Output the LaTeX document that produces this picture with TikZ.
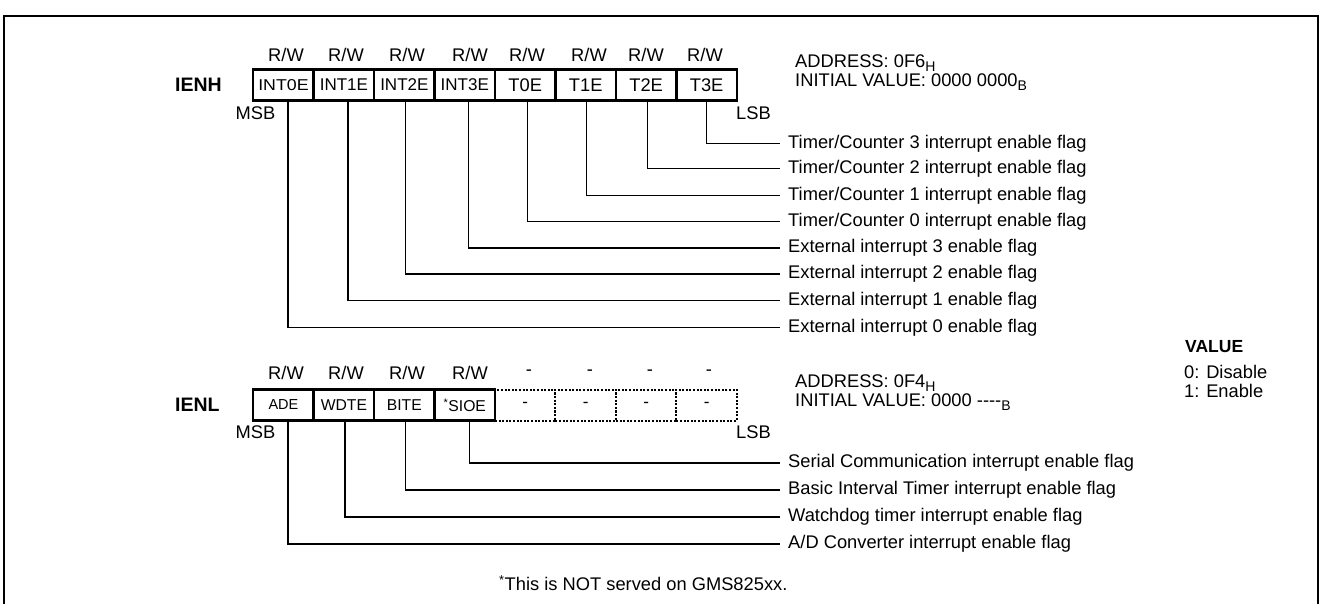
\documentclass[tikz,border=0pt]{standalone}
\usepackage{fontspec}
\setmainfont{Liberation Sans}
\newcommand{\lowsub}[1]{\raisebox{-4pt}{\fontsize{14}{15}\selectfont #1}}
\begin{document}
\begin{tikzpicture}[x=1pt,y=-1pt,
  txt/.style={font=\fontsize{18.3}{20}\selectfont, inner sep=0pt},
  lbl/.style={txt, anchor=west},
  regname/.style={font=\fontsize{19.5}{21}\selectfont\bfseries, inner sep=0pt, anchor=west},
  cell/.style={draw, line width=2.4pt, minimum width=60.45pt, minimum height=31pt, inner sep=0pt, font=\fontsize{17}{19}\selectfont},
  bigcell/.style={cell, font=\fontsize{18.3}{20}\selectfont},
  midcell/.style={cell, font=\fontsize{15.7}{17}\selectfont},
  smallcell/.style={cell, font=\fontsize{14.5}{16}\selectfont},
  dcell/.style={draw, line width=2pt, dash pattern=on 2pt off 1.6pt, minimum width=60.45pt, minimum height=31pt, inner sep=0pt, font=\fontsize{17}{19}\selectfont},
  conn/.style={line width=1.2pt, shorten >=8pt}]
\useasboundingbox (0,0) rectangle (1321,604);
\clip (0,0) rectangle (1321,604);
\draw[line width=1.5pt] (4,16) rectangle (1318,640);

% ---------- IENH ----------
\node[regname] (ienh) at (175,85) {IENH};
\node[midcell] (h0) at (283.45,85) {\scalebox{1.13}[1]{INT0E}};
\foreach \i/\t in {1/INT1E,2/INT2E,3/INT3E}{
  \node[cell] (h\i) at (283.45+60.45*\i,85) {\t};
}
\foreach \i/\t in {4/T0E,5/T1E,6/T2E,7/T3E}{
  \node[bigcell] (h\i) at (283.45+60.45*\i,85) {\t};
}
\foreach \i/\x in {0/286,1/346,2/407,3/470,4/527,5/589,6/646,7/705}{
  \node[txt] (hrw\i) at (\x,55) {R/W};
}
\node[txt] (hmsb) at (255.5,113) {MSB};
\node[txt, anchor=west] (hlsb) at (736,113) {LSB};
\node[lbl] (ha1) at (795,63) {ADDRESS: 0F6\lowsub{H}};
\node[lbl] (ha2) at (795,82) {INITIAL VALUE: 0000 0000\lowsub{B}};

\node[lbl] (f7) at (788,143.3) {Timer/Counter 3 interrupt enable flag};
\node[lbl] (f6) at (788,168.3) {Timer/Counter 2 interrupt enable flag};
\node[lbl] (f5) at (788,195.3) {Timer/Counter 1 interrupt enable flag};
\node[lbl] (f4) at (788,221.3) {Timer/Counter 0 interrupt enable flag};
\node[lbl] (f3) at (788,248) {External interrupt 3 enable flag};
\node[lbl] (f2) at (788,274) {External interrupt 2 enable flag};
\node[lbl] (f1) at (788,300.3) {External interrupt 1 enable flag};
\node[lbl] (f0) at (788,327.3) {External interrupt 0 enable flag};

\foreach \i/\s in {0/4.5,1/4,2/1.5,3/4,4/2,5/1,6/1,7/0}{
  \draw[conn] ([xshift=\s pt]h\i.south) |- (f\i.west);
}

% ---------- IENL ----------
\node[regname] (ienl) at (175,405) {IENL};
\foreach \i in {4,5,6,7}{
  \node[dcell] (l\i) at (283.45+60.45*\i,405) {-};
}
\node[smallcell] (l0) at (283.45,405) {ADE};
\foreach \i/\t in {1/WDTE,2/BITE,3/\textsuperscript{*}SIOE}{
  \node[midcell] (l\i) at (283.45+60.45*\i,405) {\t};
}
\foreach \i/\x in {0/286,1/346,2/407,3/470}{
  \node[txt] (lrw\i) at (\x,373) {R/W};
}
\foreach \i/\x in {4/529,5/590,6/650,7/709}{
  \node[txt] (lrw\i) at (\x,373) {-};
}
\node[txt] (lmsb) at (255.5,432) {MSB};
\node[txt, anchor=west] (llsb) at (736,432) {LSB};
\node[lbl] (la1) at (795,383) {ADDRESS: 0F4\lowsub{H}};
\node[lbl] (la2) at (795,402) {INITIAL VALUE: 0000 -{}-{}-{}-\lowsub{B}};

\node[lbl] (g3) at (788,463) {Serial Communication interrupt enable flag};
\node[lbl] (g2) at (788,490) {Basic Interval Timer interrupt enable flag};
\node[lbl] (g1) at (788,517) {Watchdog timer interrupt enable flag};
\node[lbl] (g0) at (788,544) {A/D Converter interrupt enable flag};

\foreach \i/\s in {0/4.5,1/1,2/1.5,3/5}{
  \draw[conn] ([xshift=\s pt]l\i.south) |- (g\i.west);
}

% ---------- VALUE ----------
\node[regname, font=\fontsize{17.5}{19}\selectfont\bfseries] (vt) at (1185,347) {VALUE};
\node[lbl] (v0) at (1184,372) {0: Disable};
\node[lbl] (v1) at (1184,391) {1: Enable};

% ---------- footnote ----------
\node[lbl] (fn) at (499,583) {\textsuperscript{*}This is NOT served on GMS825xx.};
\end{tikzpicture}
\end{document}
